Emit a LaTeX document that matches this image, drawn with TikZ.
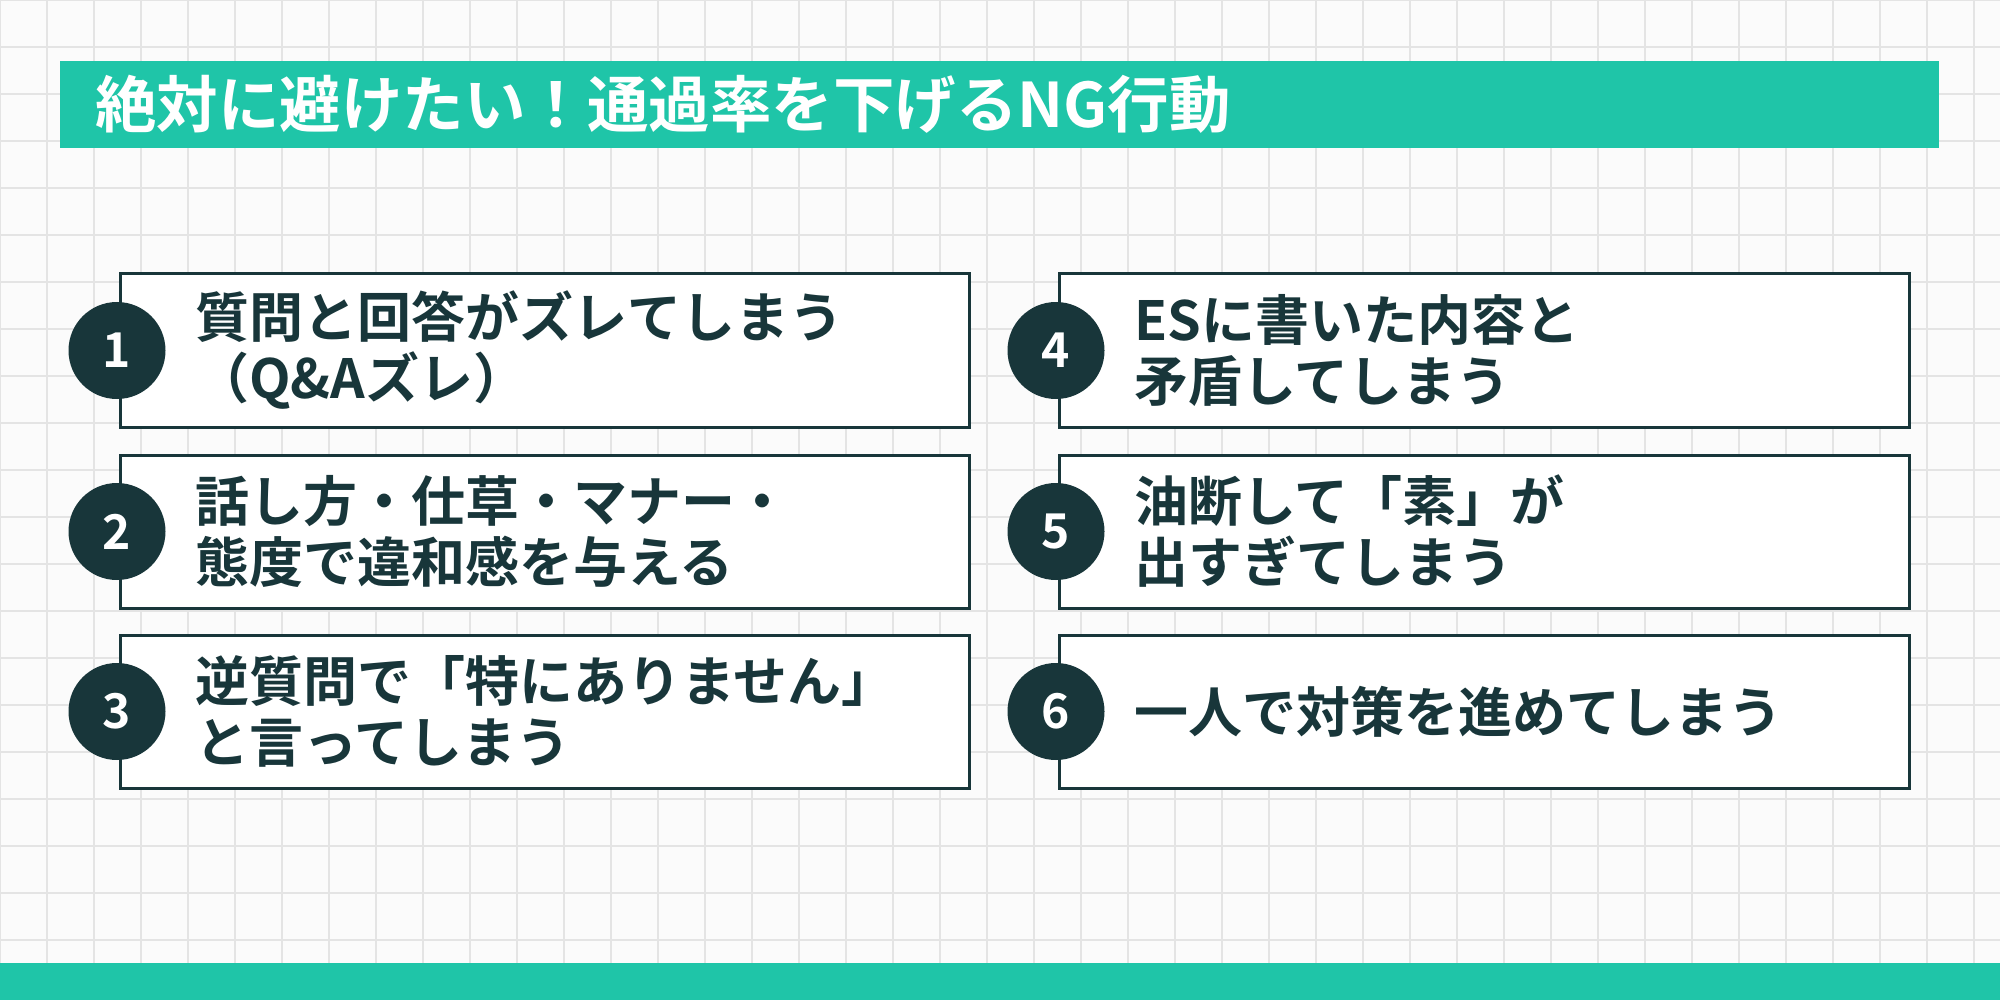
\documentclass[tikz,border=0pt]{standalone}
\usepackage{fontspec}
\setmainfont{Noto Sans CJK JP}[BoldFont={* Bold}]
\definecolor{teal}{HTML}{1FC5A8}
\definecolor{dark}{HTML}{18363A}
\definecolor{gridc}{HTML}{E4E4E4}
\begin{document}
\begin{tikzpicture}[x=1pt,y=-1pt,
  box/.style={draw=dark,line width=3pt,fill=white},
  num/.style={circle,fill=dark,minimum size=97pt,inner sep=0pt,text=white,font=\bfseries\fontsize{48}{48}\selectfont},
  lbl/.style={anchor=west,align=left,text=dark,inner sep=0pt,font=\bfseries\fontsize{54}{61}\selectfont}]
\useasboundingbox (0,0) rectangle (2000,1000);
\fill[white!97!gray] (0,0) rectangle (2000,1000);
\foreach \x in {0,47,...,2000} \draw[gridc,line width=1.5pt] (\x,0) -- (\x,1000);
\foreach \y in {0,47,...,1000} \draw[gridc,line width=1.5pt] (0,\y) -- (2000,\y);
\fill[teal] (60,61) rectangle (1939,148);
\node[anchor=west,text=white,inner sep=0pt,font=\bfseries\fontsize{61.5}{61.5}\selectfont] (title) at (95,104.5) {絶対に避けたい！通過率を下げるNG行動};
\fill[teal] (0,963) rectangle (2000,1000);
\foreach \i/\xa/\xb/\ya/\txt in {
 1/120/969/274/{質問と回答がズレてしまう\\（Q\&Aズレ）},
 2/120/969/455/{話し方・仕草・マナー・\\態度で違和感を与える},
 3/120/969/635/{逆質問で「特にありません」\\と言ってしまう},
 4/1059/1909/274/{ESに書いた内容と\\矛盾してしまう},
 5/1059/1909/455/{油断して「素」が\\出すぎてしまう},
 6/1059/1909/635/{一人で対策を進めてしまう}}{
  \draw[box] (\xa,\ya) rectangle (\xb,\ya+153);
  \node[num] (n\i) at (\xa-3,\ya+76.5) {\i};
  \node[lbl] (t\i) at (\xa+75,\ya+76.5) {\txt};
}
\end{tikzpicture}
\end{document}
